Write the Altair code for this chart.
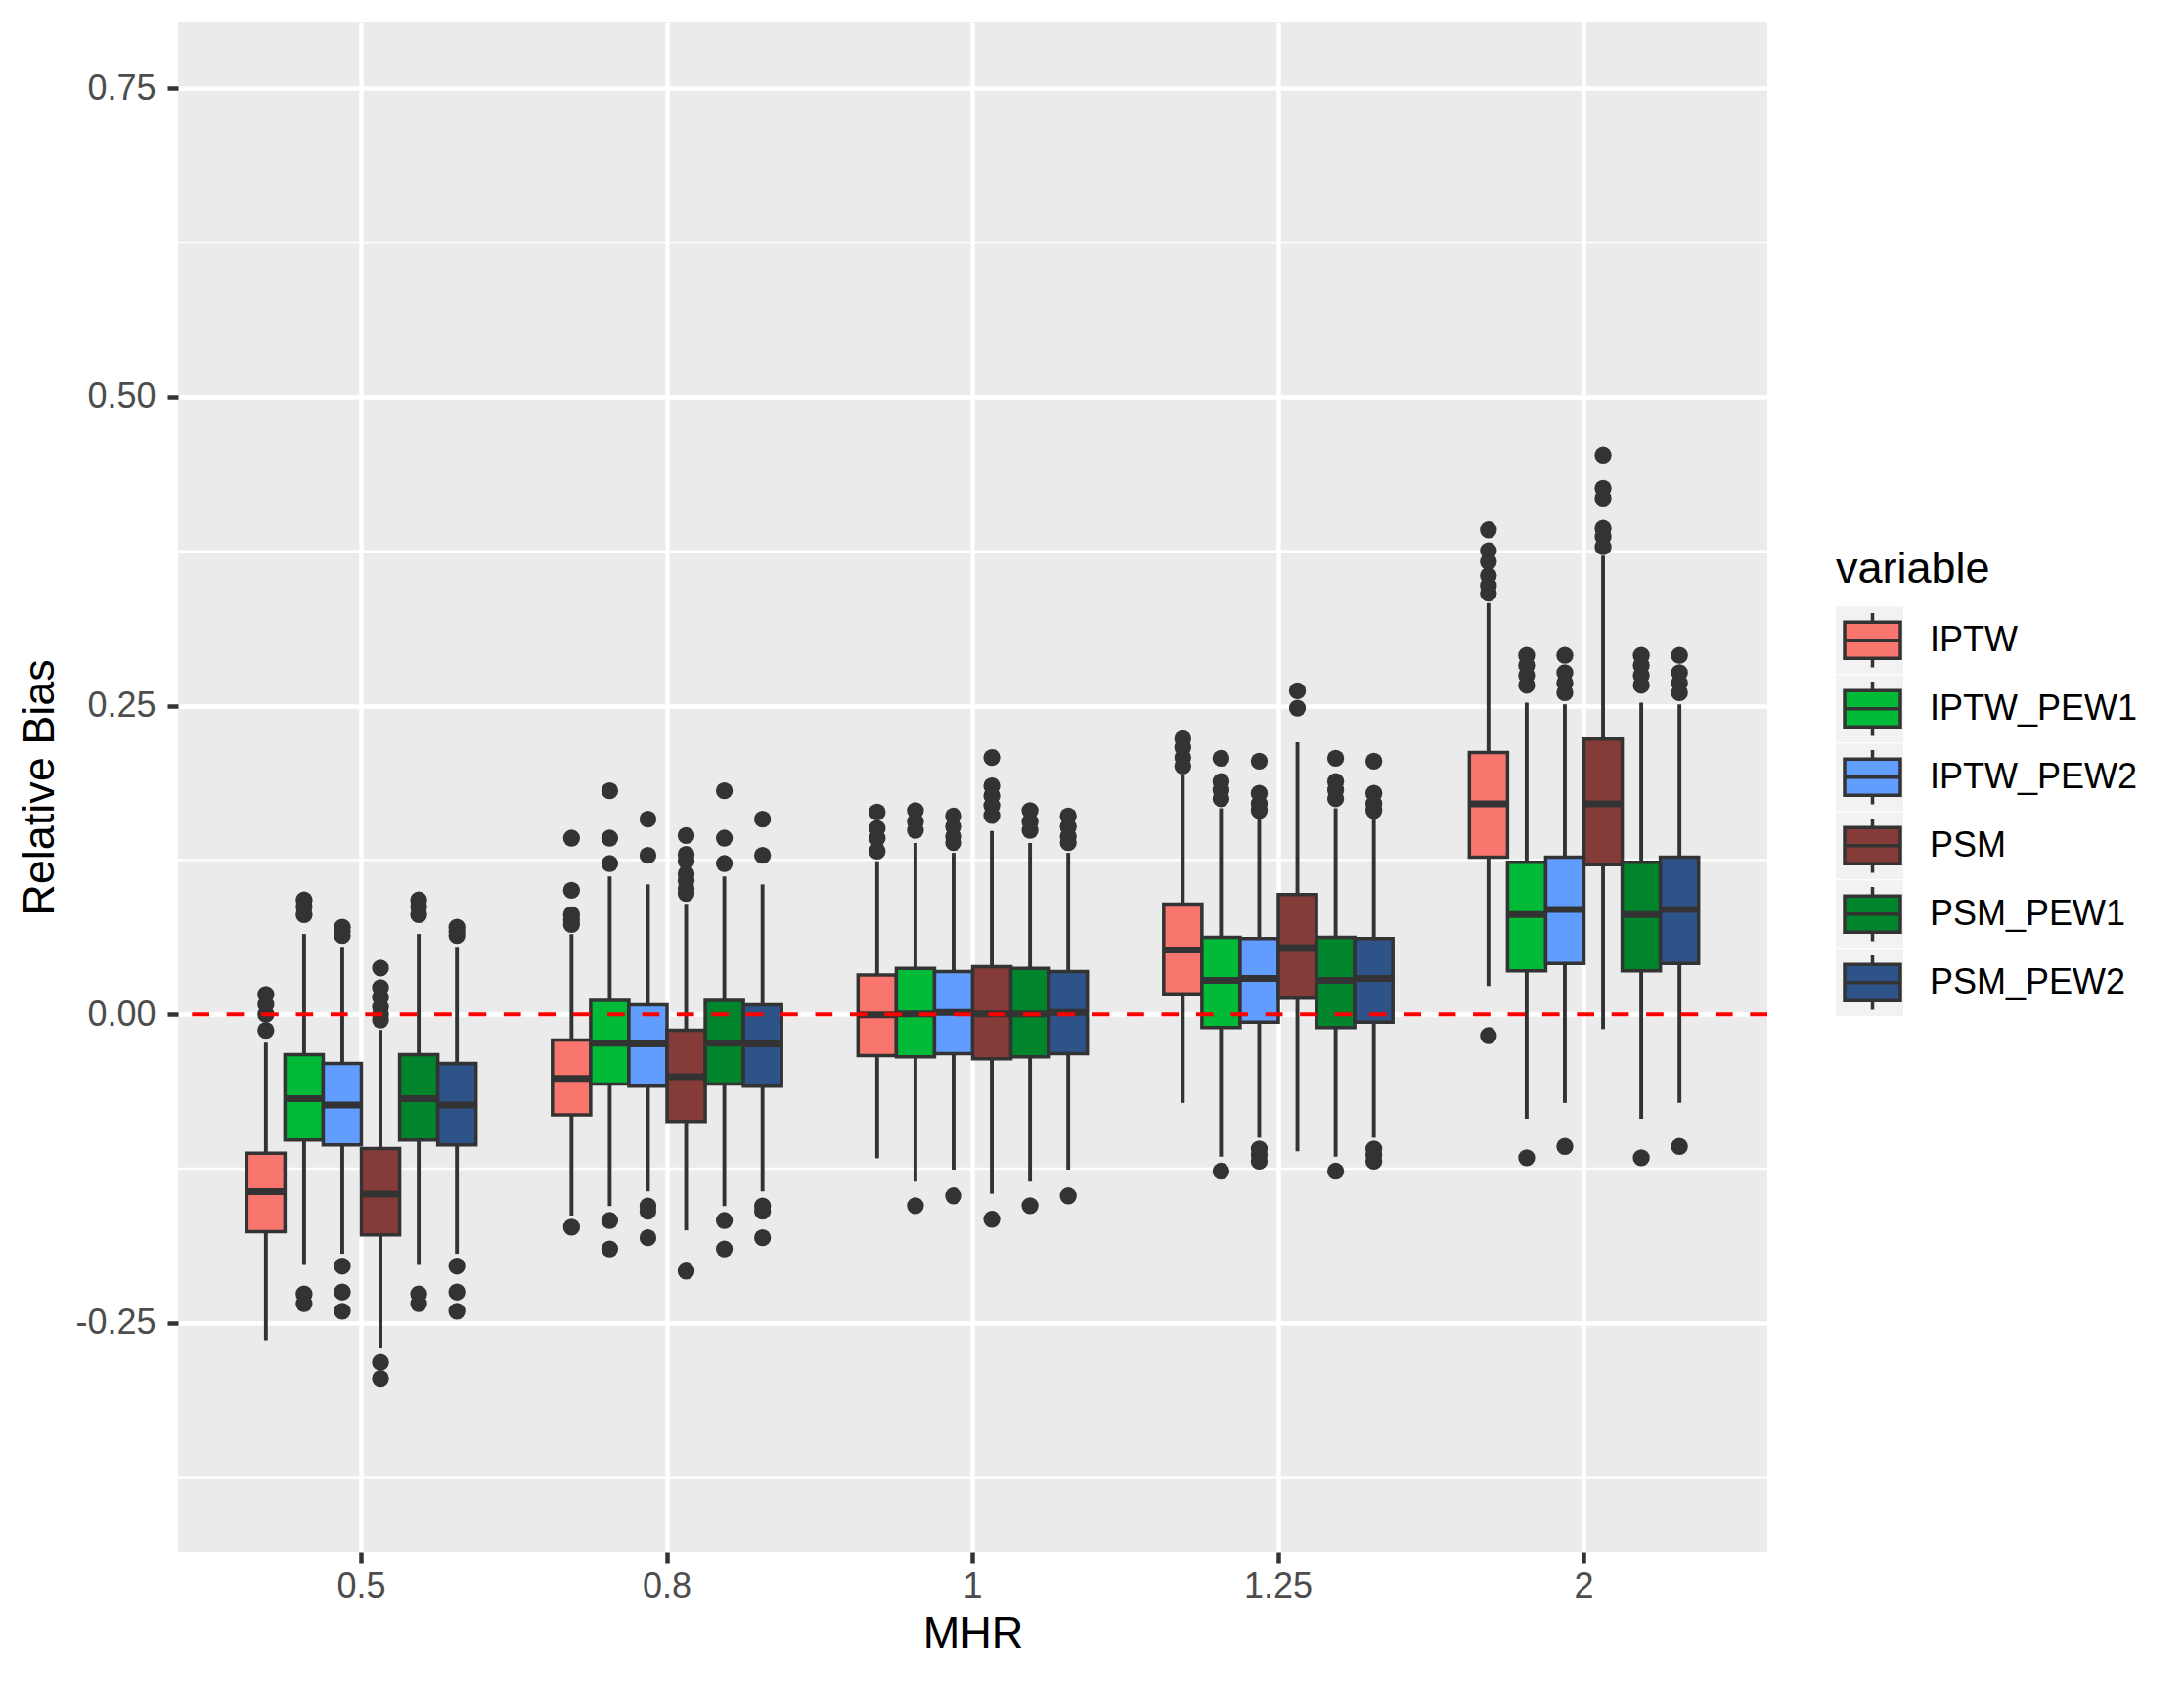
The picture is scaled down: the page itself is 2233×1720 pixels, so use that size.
import altair as alt
import pandas as pd

# ---------------- data ----------------
MHR = ["0.5", "0.8", "1", "1.25", "2"]
VARIABLES = ["IPTW", "IPTW_PEW1", "IPTW_PEW2", "PSM", "PSM_PEW1", "PSM_PEW2"]
COLORS = ["#F8766D", "#00BA38", "#619CFF", "#853C38", "#00842C", "#2E5389"]

# box statistics per MHR level (lower whisker, Q1, median, Q3, upper whisker)
IPTW_LOWER = [-0.264, -0.163, -0.1166, -0.0718, 0.023]
IPTW_Q1 = [-0.176, -0.0815, -0.0335, 0.0165, 0.1272]
IPTW_MED = [-0.1437, -0.052, -0.0005, 0.052, 0.1704]
IPTW_Q3 = [-0.1126, -0.0208, 0.0319, 0.0892, 0.212]
IPTW_UPPER = [-0.023, 0.0649, 0.124, 0.194, 0.333]
IPTW_OUT = [
    [0.016, 0.008, 0.0, -0.013],
    [0.1427, 0.1005, 0.0807, 0.0766, 0.0728, -0.1725],
    [0.1638, 0.1506, 0.1427, 0.1321],
    [0.2232, 0.2162, 0.208, 0.201],
    [0.3924, 0.3755, 0.3666, 0.3553, 0.3471, 0.3411, -0.0173],
]

PEW1_LOWER = [-0.203, -0.1553, -0.1355, -0.1153, -0.0847]
PEW1_Q1 = [-0.1018, -0.0564, -0.0346, -0.0108, 0.0351]
PEW1_MED = [-0.0683, -0.0235, 0.0003, 0.0275, 0.0807]
PEW1_Q3 = [-0.0327, 0.0113, 0.0372, 0.0623, 0.1232]
PEW1_UPPER = [0.065, 0.1116, 0.1387, 0.1669, 0.2524]
PEW1_OUT = [
    [0.0926, 0.087, 0.0807, -0.2265, -0.2344],
    [0.181, 0.1427, 0.1221, -0.167, -0.190],
    [0.165, 0.156, 0.149, -0.155],
    [0.2073, 0.1885, 0.1816, 0.1746, -0.127],
    [0.2907, 0.2826, 0.2745, 0.2665, -0.1162],
]

PEW2_LOWER = [-0.194, -0.1434, -0.1258, -0.100, -0.0718]
PEW2_Q1 = [-0.1058, -0.0583, -0.0319, -0.0063, 0.0412]
PEW2_MED = [-0.0736, -0.024, 0.0016, 0.029, 0.0848]
PEW2_Q3 = [-0.0398, 0.0077, 0.0346, 0.0614, 0.1272]
PEW2_UPPER = [0.0546, 0.1052, 0.1308, 0.158, 0.2511]
PEW2_OUT = [
    [0.0705, 0.067, 0.0638, -0.204, -0.225, -0.2405],
    [0.158, 0.1287, -0.1553, -0.1595, -0.181],
    [0.1606, 0.152, 0.144, 0.139, -0.147],
    [0.205, 0.179, 0.1705, 0.165, -0.109, -0.114, -0.119],
    [0.2907, 0.2766, 0.2684, 0.2604, -0.107],
]

PSM_LOWER = [-0.270, -0.175, -0.1453, -0.111, -0.012]
PSM_Q1 = [-0.1786, -0.0868, -0.0361, 0.0131, 0.1211]
PSM_MED = [-0.1456, -0.0506, 0.0003, 0.054, 0.1704]
PSM_Q3 = [-0.1087, -0.0129, 0.0385, 0.0969, 0.2229]
PSM_UPPER = [-0.0127, 0.0894, 0.1485, 0.2204, 0.3714]
PSM_OUT = [
    [0.0374, 0.0216, 0.0137, 0.0058, -0.0005, -0.0047, -0.282, -0.295],
    [0.1448, 0.1295, 0.1242, 0.1137, 0.1084, 0.1018, 0.0979, -0.208],
    [0.208, 0.185, 0.177, 0.169, 0.161, -0.166],
    [0.262, 0.248],
    [0.453, 0.426, 0.418, 0.3936, 0.3867, 0.3786],
]

# PSM_PEW1 / PSM_PEW2 are drawn identical to IPTW_PEW1 / IPTW_PEW2
STATS = {
    "IPTW": (IPTW_LOWER, IPTW_Q1, IPTW_MED, IPTW_Q3, IPTW_UPPER, IPTW_OUT),
    "IPTW_PEW1": (PEW1_LOWER, PEW1_Q1, PEW1_MED, PEW1_Q3, PEW1_UPPER, PEW1_OUT),
    "IPTW_PEW2": (PEW2_LOWER, PEW2_Q1, PEW2_MED, PEW2_Q3, PEW2_UPPER, PEW2_OUT),
    "PSM": (PSM_LOWER, PSM_Q1, PSM_MED, PSM_Q3, PSM_UPPER, PSM_OUT),
    "PSM_PEW1": (PEW1_LOWER, PEW1_Q1, PEW1_MED, PEW1_Q3, PEW1_UPPER, PEW1_OUT),
    "PSM_PEW2": (PEW2_LOWER, PEW2_Q1, PEW2_MED, PEW2_Q3, PEW2_UPPER, PEW2_OUT),
}

Y_TICKS = [-0.25, 0.0, 0.25, 0.5, 0.75]
Y_MINOR = [-0.375, -0.125, 0.125, 0.375, 0.625]
Y_DOMAIN = [-0.4355, 0.8033]
ZERO = [0.0]

# ---------------- tables ----------------
box_rows, out_rows = [], []
for v in VARIABLES:
    lo, q1, md, q3, up, outs = STATS[v]
    for i, m in enumerate(MHR):
        box_rows.append(dict(MHR=m, variable=v, key=v + " ", lower=lo[i], q1=q1[i],
                             median=md[i], q3=q3[i], upper=up[i]))
        for o in outs[i]:
            out_rows.append(dict(MHR=m, variable=v, value=o))
box_df = pd.DataFrame(box_rows)
out_df = pd.DataFrame(out_rows)
zero_df = pd.DataFrame({"y": ZERO})
minor_df = pd.DataFrame({"y": Y_MINOR})
KEY_DOMAIN = [v + " " for v in VARIABLES]

FONT = "Liberation Sans"
DARK = "#333333"

x_enc = alt.X(
    "MHR:N",
    sort=MHR,
    scale=alt.Scale(domain=MHR, paddingInner=0, paddingOuter=0.1),
    axis=alt.Axis(
        title="MHR", labelAngle=0, bandPosition=0.5,
        grid=True, gridColor="white", gridWidth=4.5,
        domain=False, tickColor=DARK, tickSize=11, tickWidth=4.5,
        labelFont=FONT, labelFontSize=36, labelColor="#4D4D4D", labelPadding=7,
        titleFont=FONT, titleFontSize=45, titleColor="black", titleFontWeight="normal",
        titleX=812.5, titleY=83, titleBaseline="middle", titleAlign="center",
    ),
)
xoff_enc = alt.XOffset(
    "variable:N", scale=alt.Scale(domain=VARIABLES, paddingInner=0, paddingOuter=1)
)
y_scale = alt.Scale(domain=Y_DOMAIN, nice=False, zero=False)
y_axis = alt.Axis(
    title="Relative Bias", values=Y_TICKS,
    labelExpr="replace(format(datum.value, '.2f'), '\u2212', '-')",
    grid=True, gridColor="white", gridWidth=4.5,
    domain=False, tickColor=DARK, tickSize=11, tickWidth=4.5,
    labelFont=FONT, labelFontSize=36, labelColor="#4D4D4D", labelPadding=12,
    titleFont=FONT, titleFontSize=45, titleColor="black", titleFontWeight="normal",
    titleX=-142, titleY=782, titleAngle=270, titleBaseline="middle", titleAlign="center",
)

minor = alt.Chart(minor_df).mark_rule(color="white", strokeWidth=2.3).encode(
    y=alt.Y("y:Q", scale=y_scale, axis=y_axis)
)

# grey key backgrounds (legend only; no data drawn)
keys = alt.Chart(box_df).transform_filter("datum.q1 > 10").mark_point(filled=True).encode(
    x=x_enc, xOffset=xoff_enc,
    y=alt.Y("median:Q", scale=y_scale),
    color=alt.Color(
        "key:N",
        scale=alt.Scale(domain=KEY_DOMAIN, range=["#F2F2F2"] * 6),
        legend=alt.Legend(
            title=None, orient="none", legendX=1695, legendY=597,
            symbolType="square", symbolSize=4761, symbolOffset=0,
            symbolStrokeWidth=0, symbolOpacity=1,
            labelExpr="''", clipHeight=69.5, rowPadding=0, padding=0,
        ),
    ),
)

whisk_lo = alt.Chart(box_df).mark_rule(color=DARK, strokeWidth=3.9).encode(
    x=x_enc, xOffset=xoff_enc,
    y=alt.Y("lower:Q", scale=y_scale), y2="q1:Q",
)
whisk_hi = alt.Chart(box_df).mark_rule(color=DARK, strokeWidth=3.9).encode(
    x=x_enc, xOffset=xoff_enc,
    y=alt.Y("q3:Q", scale=y_scale), y2="upper:Q",
)

GLYPH = ("M-1,-0.65L1,-0.65L1,0.65L-1,0.65Z"
         "M-1,0L1,0M0,-0.65L0,-0.97M0,0.65L0,0.97")

boxes = alt.Chart(box_df).mark_bar(stroke=DARK, strokeWidth=3.5).encode(
    x=x_enc, xOffset=xoff_enc,
    y=alt.Y("q1:Q", scale=y_scale), y2="q3:Q",
    fill=alt.Fill(
        "variable:N",
        scale=alt.Scale(domain=VARIABLES, range=COLORS),
        legend=alt.Legend(
            title="variable", orient="none", legendX=1695, legendY=537,
            titleFont=FONT, titleFontSize=45, titleColor="black",
            titleFontWeight="normal", titlePadding=15,
            labelFont=FONT, labelFontSize=36, labelColor="black", labelOffset=28,
            labelLimit=0,
            symbolType=GLYPH, symbolSize=3249, symbolOffset=7,
            symbolStrokeColor=DARK, symbolStrokeWidth=3.5, symbolOpacity=1,
            clipHeight=69.5, rowPadding=0, padding=0,
        ),
    ),
)

medians = alt.Chart(box_df).mark_tick(color=DARK, thickness=7, size=40, opacity=1).encode(
    x=x_enc, xOffset=xoff_enc,
    y=alt.Y("median:Q", scale=y_scale),
)

outliers = alt.Chart(out_df).mark_circle(color=DARK, size=300, opacity=1).encode(
    x=x_enc, xOffset=xoff_enc,
    y=alt.Y("value:Q", scale=y_scale),
)

zero = alt.Chart(zero_df).mark_rule(color="red", strokeWidth=4, strokeDash=[17.7, 17.7]).encode(
    y=alt.Y("y:Q", scale=y_scale)
)

chart = (
    alt.layer(minor, keys, whisk_lo, whisk_hi, boxes, medians, outliers, zero)
    .properties(
        width=1625, height=1564,
        padding={"left": 174, "top": 15, "right": 418, "bottom": 125},
        autosize=alt.AutoSizeParams(type="none"),
        background="white",
    )
    .configure(font=FONT)
    .configure_view(fill="#EBEBEB", stroke=None)
)

chart.save("out.html", embed_options={"renderer": "svg", "actions": False})
